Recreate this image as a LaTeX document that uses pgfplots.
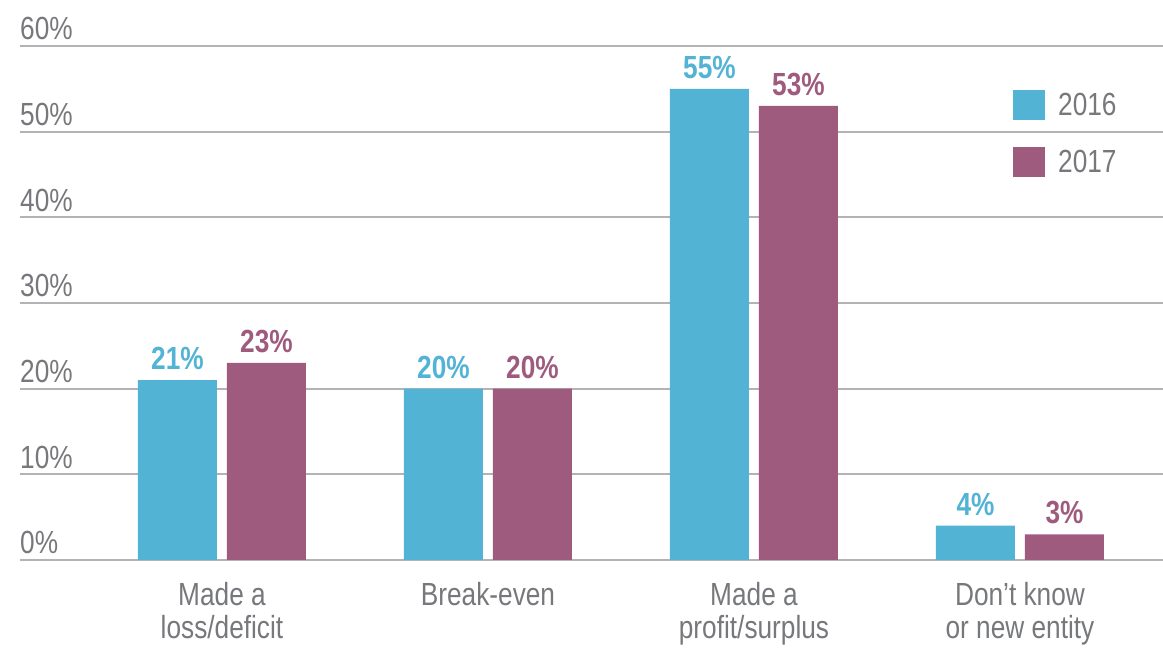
\documentclass[border=0pt]{standalone}
\usepackage{fontspec}
\setmainfont[FakeStretch=0.82]{Liberation Sans}
\usepackage{pgfplots}
\pgfplotsset{compat=1.18}
\definecolor{cblue}{HTML}{52B3D5}
\definecolor{cpurp}{HTML}{9E5B7E}
\definecolor{tgray}{HTML}{77787B}
\definecolor{ggray}{HTML}{B3B3B5}
\begin{document}
\begin{tikzpicture}[x=1pt,y=1pt]
\useasboundingbox (0,0) rectangle (1163,648);
\begin{axis}[
  at={(20pt,88pt)}, anchor=south west,
  scale only axis, width=1143pt, height=514pt,
  ybar=10pt, bar width=79pt,
  xmin=-0.7594, xmax=3.5376, ymin=0, ymax=60,
  xtick={0,1,2,3},
  xticklabels={{Made a\\loss/deficit},{Break-even},{Made a\\profit/surplus},{Don’t know\\or new entity}},
  ytick={0,10,20,30,40,50,60},
  yticklabels={0\%,10\%,20\%,30\%,40\%,50\%,60\%},
  major tick length=0pt,
  axis line style={draw=none},
  ymajorgrids, grid style={ggray, line width=2pt},
  tick label style={font=\fontsize{32}{33}\selectfont, text=tgray},
  yticklabel style={anchor=base west, inner sep=0pt, xshift=0pt, yshift=6pt},
  xticklabel style={align=center, anchor=north, inner sep=0pt, yshift=-22pt},
  nodes near coords={\pgfmathprintnumber[assume math mode=true]{\pgfplotspointmeta}\%},
  every node near coord/.append style={font=\fontsize{32}{33}\selectfont\bfseries, inner sep=0pt, yshift=10pt},
  legend style={at={(0.8688,0.9144)}, anchor=north west, draw=none, fill=none,
     inner sep=0pt, font=\fontsize{32}{33}\selectfont, text=tgray,
     row sep=27pt, cells={anchor=west}, nodes={inner sep=0pt}},
  legend cell align=left,
]
\addplot[fill=cblue, draw=none, every node near coord/.append style={text=cblue},
  legend image code/.code={\fill[cblue] (0pt,-15pt) rectangle (32pt,15pt); \path (45pt,0pt);}]
  coordinates {(0,21) (1,20) (2,55) (3,4)};
\addlegendentry{2016}
\addplot[fill=cpurp, draw=none, every node near coord/.append style={text=cpurp},
  legend image code/.code={\fill[cpurp] (0pt,-15pt) rectangle (32pt,15pt); \path (45pt,0pt);}]
  coordinates {(0,23) (1,20) (2,53) (3,3)};
\addlegendentry{2017}
\end{axis}
\end{tikzpicture}
\end{document}
